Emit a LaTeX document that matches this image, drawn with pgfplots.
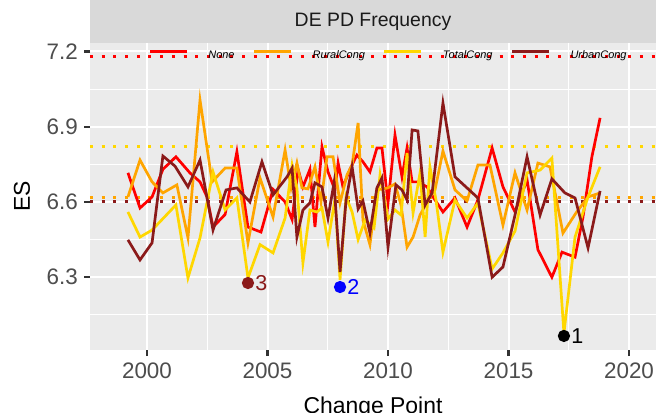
\documentclass[border=0pt]{standalone}
\usepackage{fontspec}
\setmainfont{Liberation Sans}
\usepackage{pgfplots}
\pgfplotsset{compat=1.18}
\definecolor{cNone}{HTML}{FF0000}
\definecolor{cRural}{HTML}{FFA500}
\definecolor{cTotal}{HTML}{FFD700}
\definecolor{cUrban}{HTML}{8B1A1A}
\definecolor{panelbg}{HTML}{EBEBEB}
\definecolor{stripbg}{HTML}{D9D9D9}
\definecolor{ticktext}{HTML}{4D4D4D}
\definecolor{tickcol}{HTML}{333333}
\definecolor{striptext}{HTML}{1A1A1A}
\begin{document}
\begin{tikzpicture}
\path[use as bounding box] (-90bp,-63bp) rectangle (571bp,350bp);
\begin{axis}[
 scale only axis, width=566bp, height=307bp,
 xmin=1997.635, xmax=2021.12, ymin=6.010, ymax=7.2335,
 axis background/.style={fill=panelbg},
 axis line style={draw=none},
 tick pos=left, tick align=outside,
 major tick length=6bp, minor tick length=0pt,
 every major tick/.append style={tickcol, line width=2.2bp},
 xtick={2000,2005,2010,2015,2020}, ytick={6.3,6.6,6.9,7.2},
 minor xtick={2002.5,2007.5,2012.5,2017.5},
 minor ytick={6.15,6.45,6.75,7.05},
 grid=both,
 major grid style={white, line width=2bp},
 minor grid style={white, line width=1bp},
 /pgf/number format/assume math mode=true,
 ticklabel style={font=\fontsize{22.5}{24}\selectfont, text=ticktext},
 xticklabel style={anchor=north, inner sep=0pt, yshift=-7bp, /pgf/number format/1000 sep={}},
 yticklabel style={anchor=east, inner sep=0pt, xshift=-6bp, /pgf/number format/fixed, /pgf/number format/precision=1, /pgf/number format/fixed zerofill},
 xlabel={Change Point}, ylabel={ES},
 xlabel style={at={(axis description cs:0.5,0)}, anchor=base, yshift=-63bp, font=\fontsize{23}{26}\selectfont, text=black},
 ylabel style={at={(axis description cs:-0.1201,0.5)}, anchor=center, rotate=0, font=\fontsize{23}{26}\selectfont, text=black},
 legend style={at={(axis description cs:0.5256,0.9609)}, anchor=center, draw=none, fill=none,
   font=\fontsize{11}{12}\selectfont\itshape, legend columns=4,
   /tikz/every odd column/.append style={column sep=20bp},
   /tikz/every even column/.append style={column sep=18bp},
   /tikz/nodes={inner sep=0pt}},
 legend image code/.code={\draw[#1, line width=3bp] (0bp,3.8bp) -- (37bp,3.8bp);},
 every axis plot/.append style={line width=2.7bp},
]
% reference lines
\addplot[forget plot, cNone, line width=3bp, dash pattern=on 3bp off 8.7bp] coordinates {(1997.635,7.18) (2021.12,7.18)};
\addplot[forget plot, cTotal, line width=3bp, dash pattern=on 3bp off 8.7bp] coordinates {(1997.635,6.82) (2021.12,6.82)};
\addplot[forget plot, cRural, line width=3bp, dash pattern=on 3bp off 8.7bp] coordinates {(1997.635,6.617) (2021.12,6.617)};
\addplot[forget plot, cUrban, line width=3bp, dash pattern=on 3bp off 8.7bp] coordinates {(1997.635,6.60) (2021.12,6.60)};
% None
\addplot[cNone] coordinates {(1999.21,6.716) (1999.71,6.576) (2000.21,6.62) (2000.66,6.73) (2001.20,6.78) (2001.78,6.716) (2002.20,6.68) (2002.49,6.62) (2002.74,6.50) (2003.24,6.55) (2003.73,6.80) (2004.19,6.50) (2004.73,6.48) (2005.23,6.65) (2005.73,6.60) (2006.02,6.53) (2006.27,6.73) (2006.47,6.66) (2006.76,6.73) (2006.97,6.50) (2007.26,6.82) (2007.51,6.72) (2007.80,6.648) (2007.93,6.755) (2008.13,6.66) (2008.42,6.73) (2008.71,6.787) (2008.96,6.76) (2009.25,6.72) (2009.54,6.815) (2009.75,6.815) (2010.00,6.596) (2010.29,6.867) (2010.58,6.70) (2010.79,6.815) (2011.00,6.68) (2011.24,6.68) (2011.62,6.66) (2011.87,6.62) (2012.28,6.56) (2012.78,6.616) (2013.28,6.50) (2013.73,6.608) (2014.32,6.815) (2014.77,6.66) (2015.27,6.56) (2015.77,6.688) (2016.22,6.41) (2016.80,6.30) (2017.22,6.40) (2017.76,6.38) (2018.09,6.54) (2018.46,6.78) (2018.80,6.935)};
\addlegendentry{None}
% RuralCong
\addplot[cRural] coordinates {(1999.21,6.62) (1999.71,6.767) (2000.21,6.68) (2000.66,6.636) (2001.24,6.668) (2001.70,6.457) (2002.20,7.006) (2002.70,6.68) (2003.24,6.735) (2003.73,6.735) (2004.19,6.437) (2004.69,6.696) (2005.23,6.54) (2005.73,6.807) (2005.98,6.656) (2006.22,6.755) (2006.43,6.656) (2006.68,6.652) (2006.97,6.74) (2007.22,6.60) (2007.47,6.78) (2007.72,6.78) (2008.01,6.596) (2008.30,6.708) (2008.51,6.747) (2008.76,6.915) (2008.96,6.528) (2009.25,6.43) (2009.54,6.648) (2010.00,6.656) (2010.29,6.672) (2010.54,6.588) (2010.79,6.42) (2011.04,6.46) (2011.33,6.548) (2011.74,6.62) (2011.95,6.648) (2012.28,6.803) (2012.78,6.648) (2013.28,6.604) (2013.73,6.747) (2014.23,6.747) (2014.77,6.508) (2015.27,6.716) (2015.77,6.568) (2016.22,6.755) (2016.72,6.74) (2017.26,6.476) (2017.80,6.556) (2018.30,6.62) (2018.80,6.636)};
\addlegendentry{RuralCong}
% TotalCong
\addplot[cTotal] coordinates {(1999.21,6.56) (1999.71,6.46) (2000.21,6.488) (2001.20,6.588) (2001.70,6.297) (2002.20,6.457) (2002.74,6.72) (2003.24,6.568) (2003.73,6.616) (2004.19,6.297) (2004.69,6.43) (2005.23,6.397) (2005.73,6.536) (2006.02,6.747) (2006.22,6.656) (2006.47,6.357) (2006.76,6.568) (2007.05,6.56) (2007.26,6.576) (2007.51,6.44) (2007.80,6.612) (2008.01,6.29) (2008.26,6.62) (2008.51,6.56) (2008.76,6.45) (2009.05,6.528) (2009.42,6.496) (2009.67,6.708) (2010.00,6.532) (2010.29,6.568) (2010.54,6.548) (2010.79,6.795) (2011.04,6.556) (2011.33,6.716) (2011.54,6.46) (2011.74,6.74) (2011.99,6.608) (2012.28,6.40) (2012.78,6.608) (2013.28,6.536) (2013.73,6.596) (2014.32,6.333) (2014.77,6.397) (2015.27,6.484) (2015.77,6.716) (2016.31,6.727) (2016.80,6.775) (2017.30,6.078) (2017.76,6.46) (2018.30,6.62) (2018.80,6.74)};
\addlegendentry{TotalCong}
% UrbanCong
\addplot[cUrban] coordinates {(1999.21,6.449) (1999.71,6.369) (2000.21,6.437) (2000.66,6.783) (2001.16,6.743) (2001.70,6.66) (2002.20,6.767) (2002.74,6.488) (2003.28,6.648) (2003.73,6.656) (2004.27,6.60) (2004.77,6.76) (2005.23,6.628) (2005.81,6.70) (2006.02,6.735) (2006.22,6.46) (2006.47,6.568) (2006.76,6.596) (2006.97,6.676) (2007.26,6.66) (2007.51,6.536) (2007.76,6.676) (2008.01,6.321) (2008.26,6.608) (2008.51,6.74) (2008.76,6.572) (2008.96,6.604) (2009.25,6.477) (2009.54,6.656) (2009.75,6.696) (2010.00,6.42) (2010.33,6.668) (2010.58,6.648) (2010.79,6.608) (2011.00,6.887) (2011.24,6.883) (2011.54,6.588) (2011.83,6.636) (2012.28,6.994) (2012.78,6.70) (2013.73,6.616) (2014.32,6.30) (2014.77,6.341) (2015.27,6.548) (2015.77,6.78) (2016.31,6.548) (2016.80,6.692) (2017.34,6.636) (2017.76,6.616) (2018.30,6.417) (2018.80,6.644)};
\addlegendentry{UrbanCong}
% labelled points
\addplot[forget plot, only marks, mark=*, mark size=4.7bp, cUrban, point meta=explicit symbolic, nodes near coords,
  every node near coord/.append style={anchor=west, inner sep=0pt, xshift=6bp, font=\fontsize{21.6}{24}\selectfont, text=cUrban}]
  coordinates {(2004.19,6.277) [3]};
\addplot[forget plot, only marks, mark=*, mark size=4.7bp, blue, point meta=explicit symbolic, nodes near coords,
  every node near coord/.append style={anchor=west, inner sep=0pt, xshift=6bp, font=\fontsize{21.6}{24}\selectfont, text=blue}]
  coordinates {(2008.01,6.261) [2]};
\addplot[forget plot, only marks, mark=*, mark size=4.7bp, black, point meta=explicit symbolic, nodes near coords,
  every node near coord/.append style={anchor=west, inner sep=0pt, xshift=6bp, font=\fontsize{21.6}{24}\selectfont, text=black}]
  coordinates {(2017.30,6.066) [1]};
\end{axis}
\fill[stripbg] (0bp,307bp) rectangle (566bp,350bp);
\node[font=\fontsize{19.5}{22}\selectfont, text=striptext] at (283bp,328.5bp) {DE PD Frequency};
\end{tikzpicture}
\end{document}
